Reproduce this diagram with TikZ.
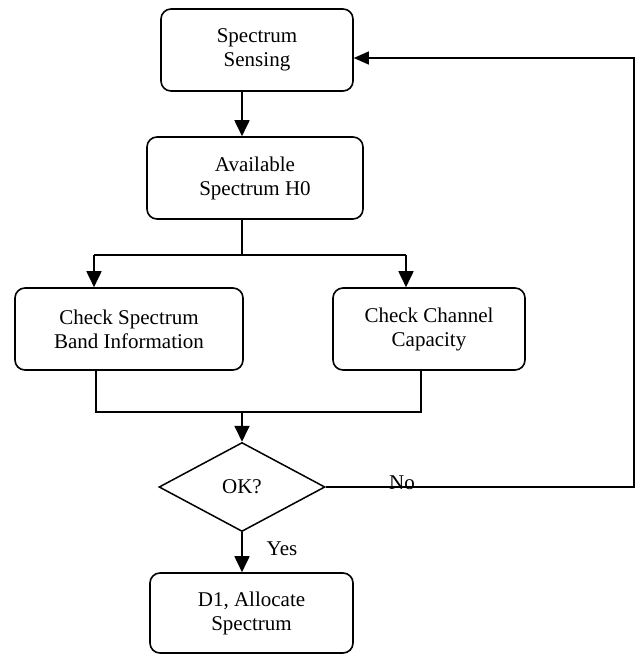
\documentclass[tikz,border=0pt]{standalone}
\usepackage{fontspec}
\setmainfont{Liberation Serif}
\usetikzlibrary{arrows.meta,shapes.geometric}
\begin{document}
\begin{tikzpicture}[x=1pt,y=-1pt,
  every node/.style={font=\fontsize{21}{24}\selectfont},
  stepbox/.style={draw, line width=1.6pt, rounded corners=10pt, align=center,
    inner sep=0pt},
  decision/.style={draw, diamond, line width=1.5pt, inner sep=0pt},
  arr/.style={line width=1.8pt, -{Triangle[length=16pt,width=15pt]}},
  link/.style={line width=1.2pt},
  loop/.style={line width=1.1pt, -{Triangle[length=15pt,width=13pt]}},
  lbl/.style={inner sep=0pt, anchor=base}]
\useasboundingbox (0,0) rectangle (636,654);

% process boxes
\node[stepbox, minimum width=192pt, minimum height=82pt] (sense) at (257,50) {Spectrum\\Sensing};
\node[stepbox, minimum width=216pt, minimum height=82pt] (avail) at (255,178) {Available\\Spectrum H0};
\node[stepbox, minimum width=228pt, minimum height=82pt] (band) at (129,329) {Check Spectrum\\Band Information};
\node[stepbox, minimum width=192pt, minimum height=82pt] (cap) at (429,329) {Check Channel\\Capacity};
\node[decision, minimum width=166pt, minimum height=89pt] (ok) at (242,487) {OK?};
\node[stepbox, minimum width=203pt, minimum height=80pt] (alloc) at (251.5,613) {D1, Allocate\\Spectrum};

% branching points
\coordinate (split) at (242,255);
\coordinate (jl) at (94,255);
\coordinate (jr) at (406,255);
\coordinate (ml) at (96,412);
\coordinate (mr) at (421,412);
\coordinate (nr) at (634,58);

% main flow
\draw[arr] (sense.south -| ok.north) -- (avail.north -| ok.north);
\draw[link] (avail.south -| split) -- (split);
\draw[link] (jl) -- (jr);
\draw[arr] (jl) -- (jl |- band.north);
\draw[arr] (jr) -- (jr |- cap.north);
\draw[link] (ml |- band.south) -- (ml) -- (mr) -- (mr |- cap.south);
\draw[arr] (ml -| ok.north) -- (ok.north);
\draw[arr] (ok.south) -- (alloc.north -| ok.south);

% feedback loop
\draw[loop] (ok.east) -- (ok.east -| nr) -- (nr) -- (nr -| sense.east);

% labels
\node[lbl] (no) at (402,489) {No};
\node[lbl] (yes) at (282,555) {Yes};
\end{tikzpicture}
\end{document}
